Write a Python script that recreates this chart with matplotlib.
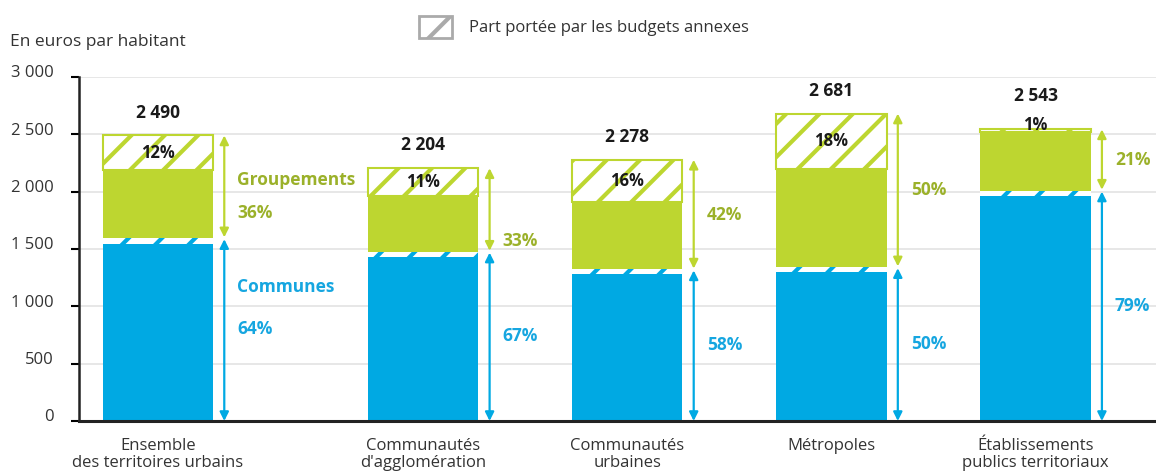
import matplotlib
matplotlib.use('Agg')
import matplotlib.pyplot as plt
from matplotlib.patches import Patch
from matplotlib.ticker import FuncFormatter
import matplotlib.transforms as mtransforms

plt.rcParams['font.family'] = ['Open Sans', 'DejaVu Sans']
plt.rcParams['hatch.linewidth'] = 3.0

# données (euros par habitant)
categories = ["Ensemble\ndes territoires urbains", "Communautés\nd'agglomération",
              "Communautés\nurbaines", "Métropoles",
              "Établissements\npublics territoriaux"]
totaux = [2490, 2204, 2278, 2681, 2543]
part_communes = [64, 67, 58, 50, 79]        # % du total
part_groupements = [36, 33, 42, 50, 21]     # % du total
part_annexes_grp = [12, 11, 16, 18, 1]      # % du total porté par les budgets annexes des groupements
annexes_communes = [50, 45, 40, 40, 45]     # euros, budgets annexes des communes (estimés)

x_pos = [0, 1.3, 2.3, 3.3, 4.3]
largeur = 0.54

BLEU = '#00a9e3'
VERT = '#bdd630'
VERT_TXT = '#9bb12a'
BLEU_TXT = '#16a6e0'
TXT = '#333333'

fig = plt.figure(figsize=(11.56, 4.74), dpi=100)
ax = fig.add_axes([0.0683, 0.1118, 0.9317, 0.7258])

for i, x in enumerate(x_pos):
    tot = totaux[i]
    com = tot * part_communes[i] / 100
    ann_g = tot * part_annexes_grp[i] / 100
    ann_c = annexes_communes[i]

    # communes : budget principal + annexes
    ax.bar(x, com - ann_c, largeur, bottom=0, color=BLEU, linewidth=0, zorder=2)
    ax.bar(x, ann_c, largeur, bottom=com - ann_c, facecolor='white', edgecolor=BLEU,
           hatch='/', linewidth=0, zorder=2)
    # groupements : budget principal + annexes
    ax.bar(x, tot - com - ann_g, largeur, bottom=com, color=VERT, linewidth=0, zorder=2)
    ax.bar(x, ann_g, largeur, bottom=tot - ann_g, facecolor='white', edgecolor=VERT,
           hatch='/', linewidth=1.5, zorder=2)

    # étiquettes annexes
    if ann_g > 150:
        ax.text(x, tot - ann_g / 2, f"{part_annexes_grp[i]}%", ha='center', va='center',
                fontsize=12, fontweight='bold', color='#1a1a1a', zorder=3)
        y_tot = tot + 200
    else:
        ax.text(x, tot + 40, f"{part_annexes_grp[i]}%", ha='center', va='center',
                fontsize=12, fontweight='bold', color='#1a1a1a', zorder=3)
        y_tot = tot + 290
    ax.text(x, y_tot, f"{tot:,}".replace(',', ' '), ha='center', va='center',
            fontsize=12.5, fontweight='bold', color='#1a1a1a')

    # flèches
    xa = x + largeur / 2 + 0.055
    ax.annotate('', xy=(xa, com - 8), xytext=(xa, 0),
                arrowprops=dict(arrowstyle='<|-|>', color=BLEU, lw=1.6,
                                shrinkA=0, shrinkB=0, mutation_scale=13))
    ax.annotate('', xy=(xa, tot), xytext=(xa, com + 8),
                arrowprops=dict(arrowstyle='<|-|>', color=VERT, lw=1.6,
                                shrinkA=0, shrinkB=0, mutation_scale=13))

    xt = xa + 0.064
    if i == 0:
        ax.text(xt, 2100, "Groupements", ha='left', va='center', fontsize=12.5,
                fontweight='bold', color=VERT_TXT)
        ax.text(xt, 1815, f"{part_groupements[i]}%", ha='left', va='center',
                fontsize=12.5, fontweight='bold', color=VERT_TXT)
        ax.text(xt, 1170, "Communes", ha='left', va='center', fontsize=12.5,
                fontweight='bold', color=BLEU_TXT)
        ax.text(xt, 805, f"{part_communes[i]}%", ha='left', va='center',
                fontsize=12.5, fontweight='bold', color=BLEU_TXT)
    else:
        y_g = (com + tot) / 2 if i != 1 else 1570
        y_c = com / 2
        ax.text(xt, y_g, f"{part_groupements[i]}%", ha='left', va='center',
                fontsize=12.5, fontweight='bold', color=VERT_TXT)
        ax.text(xt, y_c, f"{part_communes[i]}%", ha='left', va='center',
                fontsize=12.5, fontweight='bold', color=BLEU_TXT)

# axes
ax.set_xlim(-0.387, 4.89)
ax.set_ylim(0, 3000)
ax.set_yticks(range(0, 3001, 500))
ax.yaxis.set_major_formatter(FuncFormatter(lambda v, p: f"{v:,.0f}".replace(',', ' ')))
ax.set_xticks(x_pos)
ax.set_xticklabels(categories, fontsize=12, color=TXT, linespacing=1.1)
ax.tick_params(axis='x', length=0, pad=12)
ax.tick_params(axis='y', length=6, width=1.5, pad=12, labelsize=12, labelcolor=TXT,
               direction='out')
offset = mtransforms.ScaledTranslation(0, 4 / 72, fig.dpi_scale_trans)
for lab in ax.get_yticklabels():
    lab.set_transform(lab.get_transform() + offset)
ax.grid(axis='y', color='#e3e3e3', linewidth=1.2, zorder=0)
ax.set_axisbelow(True)
for s in ['top', 'right']:
    ax.spines[s].set_visible(False)
ax.spines['left'].set_linewidth(1.8)
ax.spines['left'].set_color('#222222')
ax.spines['bottom'].set_linewidth(2.2)
ax.spines['bottom'].set_color('#222222')

fig.text(10 / 1156, 1 - 42 / 474, "En euros par habitant", ha='left', va='center',
         fontsize=12.5, color=TXT)

fig.legend(handles=[Patch(facecolor='white', edgecolor='#aaaaaa', hatch='/', linewidth=2)],
           labels=["Part portée par les budgets annexes"], loc='center',
           bbox_to_anchor=(584 / 1156, 1 - 27 / 474), frameon=False, fontsize=12,
           handlelength=2.0, handleheight=1.6, handletextpad=1.0, labelcolor=TXT)

fig.savefig('out.png', dpi=100)
